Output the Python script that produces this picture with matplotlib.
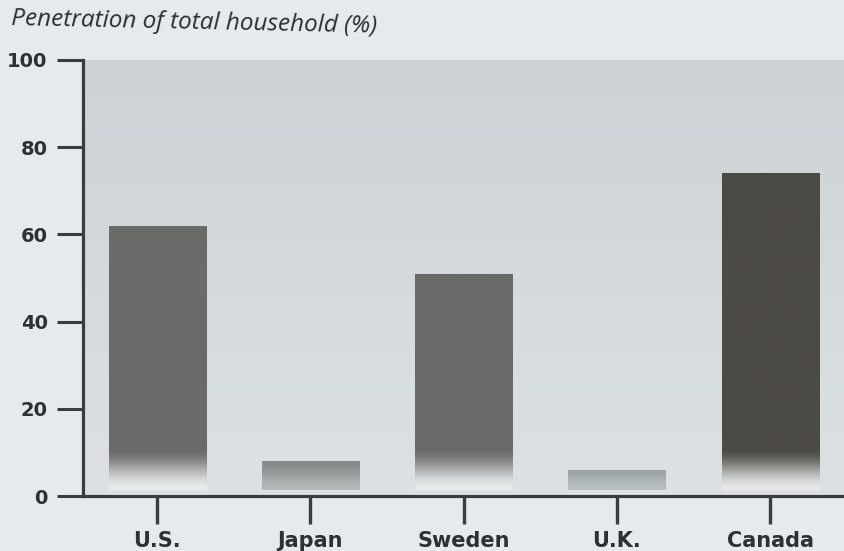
import numpy as np
import matplotlib
matplotlib.use("Agg")
import matplotlib.pyplot as plt
from matplotlib.colors import to_rgb

# Household penetration by country (%)
countries = ["U.S.", "Japan", "Sweden", "U.K.", "Canada"]
penetration = [62, 8, 51, 6, 74]
y_ticks = [0, 20, 40, 60, 80, 100]
title = "Penetration of total household (%)"

# top colour and faded foot colour of each bar
bar_colors = ["#6a6b69", "#868a8b", "#686a67", "#9ca3a6", "#4c4a45"]
foot_colors = ["#e9eced", "#b4b8b9", "#e9eced", "#babfc1", "#e7eaea"]

fig = plt.figure(figsize=(8.45, 5.51), dpi=100)
fig.patch.set_facecolor("#e5eaed")

ax = fig.add_axes([83 / 845, 55 / 551, 1 - 83 / 845, (496 - 60) / 551])
ax.set_xlim(-0.483, 4.488)
ax.set_ylim(0, 100)

# soft grey panel behind the bars
top_c = np.array(to_rgb("#ccd2d5"))
bot_c = np.array(to_rgb("#dde1e3"))
t = np.linspace(0, 1, 256)[:, None]
panel = (bot_c * (1 - t) + top_c * t)[:, None, :]
ax.imshow(panel, extent=(-0.483, 4.488, 0, 100), origin="lower",
          aspect="auto", zorder=0, interpolation="bilinear")

x = np.arange(len(countries))
bars = ax.bar(x, penetration, width=0.633, color="none", edgecolor="none", zorder=2)

# each bar fades out towards the baseline
foot = 1.4
for patch, col, fcol in zip(bars.patches, bar_colors, foot_colors):
    x0 = patch.get_x()
    w = patch.get_width()
    h = patch.get_height()
    zone = min(h, 11.0) - foot
    ys = np.linspace(foot, h, 300)
    f = np.clip((ys - foot) / zone, 0, 1)
    f = f * f * (3 - 2 * f)
    base = np.array(to_rgb(col))
    low = np.array(to_rgb(fcol))
    rows = low[None, :] * (1 - f[:, None]) + base[None, :] * f[:, None]
    img = rows[:, None, :]
    im = ax.imshow(img, extent=(x0, x0 + w, foot, h), origin="lower",
                   aspect="auto", zorder=3, interpolation="bilinear")
    im.set_clip_path(patch)

ax.set_xlim(-0.483, 4.488)
ax.set_ylim(0, 100)

for side in ["top", "right"]:
    ax.spines[side].set_visible(False)
axis_col = "#3a3d3f"
for side in ["left", "bottom"]:
    ax.spines[side].set_color(axis_col)
    ax.spines[side].set_linewidth(2.3)
    ax.spines[side].set_zorder(5)

ax.set_yticks(y_ticks)
ax.set_yticklabels([str(v) for v in y_ticks])
ax.set_xticks(x)
ax.set_xticklabels(countries)

ax.tick_params(axis="y", direction="out", length=18.5, width=2.2,
               color=axis_col, pad=7, labelsize=14, labelcolor="#2e3134")
ax.tick_params(axis="x", direction="out", length=20, width=2.4,
               color=axis_col, pad=5, labelsize=15, labelcolor="#2e3134")
for lab in ax.get_xticklabels() + ax.get_yticklabels():
    lab.set_fontfamily("DejaVu Sans")
    lab.set_fontweight("bold")

fig.text(11 / 845, 1 - 25 / 551, title, fontfamily="Open Sans", fontstyle="italic",
         fontsize=17.5, color="#2a2c2e", ha="left", va="baseline",
         rotation=-1.2, rotation_mode="anchor")

fig.savefig("out.png", dpi=100, facecolor=fig.get_facecolor())
